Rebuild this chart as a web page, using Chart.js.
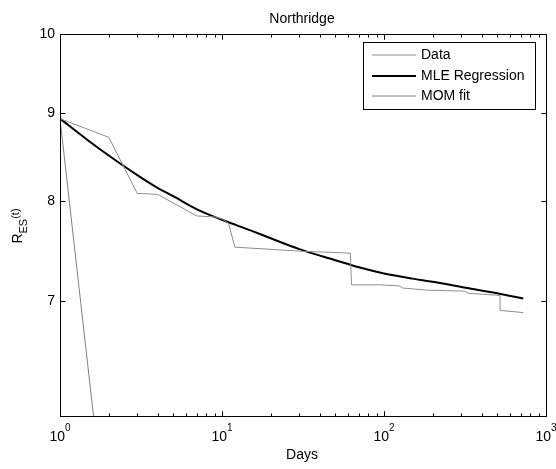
<!DOCTYPE html>
<html>
<head>
<meta charset="utf-8">
<script src="https://cdn.jsdelivr.net/npm/chart.js@4"></script>
<style>
html,body{margin:0;padding:0;background:#fff;}
#wrap{width:556px;height:469px;position:relative;}
</style>
</head>
<body>
<div id="wrap"><canvas id="c" width="556" height="469"></canvas></div>
<script>
// ---- data ----
const dataDays   = [1, 2, 3, 4, 7, 9, 10, 11, 12, 30, 62, 63, 95, 125, 130, 183, 316, 330, 520, 521, 724];
const dataValues = [8.93, 8.71, 8.08, 8.07, 7.84, 7.83, 7.81, 7.76, 7.52, 7.48, 7.46, 7.15, 7.15, 7.14, 7.12, 7.10, 7.09, 7.07, 7.05, 6.91, 6.89];

const mleDays   = [1, 1.5, 2, 3, 4, 5, 7, 10, 15, 20, 30, 50, 70, 100, 150, 200, 300, 500, 724];
const mleValues = [8.93, 8.67, 8.50, 8.28, 8.14, 8.05, 7.91, 7.80, 7.69, 7.61, 7.50, 7.39, 7.32, 7.26, 7.21, 7.18, 7.13, 7.07, 7.02];

const momDays   = [1, 1.61];
const momValues = [8.93, 6.0];

const xTickValues = [1, 10, 100, 1000];
const yTickValues = [6, 7, 8, 9, 10];
const yTickLabels = ['', '7', '8', '9', '10'];

const seriesNames = ['Data', 'MLE Regression', 'MOM fit'];
const titleText = 'Northridge';
const xTitle = 'Days';

const FONT = "'Liberation Sans', Arial, Helvetica, sans-serif";
const toPts = (xs, ys) => xs.map((x, i) => ({x: x, y: ys[i]}));

const decorPlugin = {
  id: 'decor',
  afterDraw(chart) {
    const ctx = chart.ctx;
    const xs = chart.scales.x, ys = chart.scales.y;
    const a = chart.chartArea;
    const L = Math.round(a.left) + 0.5, R = Math.round(a.right) + 0.5;
    const T = Math.round(a.top) + 0.5, B = Math.round(a.bottom) + 0.5;
    ctx.save();
    ctx.strokeStyle = '#000';
    ctx.lineWidth = 1;
    ctx.beginPath();
    ctx.rect(L, T, R - L, B - T);
    ctx.stroke();
    ctx.beginPath();
    for (let d = 1; d < 1000; d *= 10) {
      for (let m = 1; m <= 10; m++) {
        const v = d * m;
        if (v > 1000) continue;
        const px = Math.round(xs.getPixelForValue(v)) + 0.5;
        const len = (m === 1 || m === 10) ? 5 : 3;
        ctx.moveTo(px, B); ctx.lineTo(px, B - len);
        ctx.moveTo(px, T); ctx.lineTo(px, T + len);
      }
    }
    yTickValues.forEach(v => {
      const py = Math.round(ys.getPixelForValue(v)) + 0.5;
      ctx.moveTo(L, py); ctx.lineTo(L + 5, py);
      ctx.moveTo(R, py); ctx.lineTo(R - 5, py);
    });
    ctx.stroke();

    ctx.fillStyle = '#000';
    ctx.textBaseline = 'alphabetic';
    xTickValues.forEach(v => {
      const px = xs.getPixelForValue(v);
      const e = String(Math.round(Math.log10(v)));
      ctx.font = '14px ' + FONT;
      const w1 = ctx.measureText('10').width;
      ctx.font = '10px ' + FONT;
      const w2 = ctx.measureText(e).width;
      const x0 = px - (w1 + w2) / 2;
      ctx.font = '14px ' + FONT;
      ctx.textAlign = 'left';
      ctx.fillText('10', x0, 441);
      ctx.font = '10px ' + FONT;
      ctx.fillText(e, x0 + w1, 431);
    });

    ctx.font = '14px ' + FONT;
    ctx.textAlign = 'center';
    const cx = (a.left + a.right) / 2;
    ctx.fillText(titleText, cx - 1, 23);
    ctx.fillText(xTitle, cx - 1, 459);

    ctx.save();
    const cy = (a.top + a.bottom) / 2;
    ctx.translate(22, cy);
    ctx.rotate(-Math.PI / 2);
    ctx.textAlign = 'left';
    ctx.font = '14px ' + FONT;
    const wR = ctx.measureText('R').width;
    ctx.font = '11px ' + FONT;
    const wES = ctx.measureText('ES').width;
    const wT = ctx.measureText('(t)').width;
    let x0 = -(wR + wES + wT) / 2 - 1;
    ctx.font = '14px ' + FONT;
    ctx.fillText('R', x0, 0);
    ctx.font = '11px ' + FONT;
    ctx.fillText('ES', x0 + wR, 5);
    ctx.fillText('(t)', x0 + wR + wES, -3);
    ctx.restore();

    const bx = 363.5, by = 42.5, bw = 172, bh = 67;
    ctx.fillStyle = '#fff';
    ctx.fillRect(bx, by, bw, bh);
    ctx.strokeStyle = '#000';
    ctx.lineWidth = 1;
    ctx.strokeRect(bx, by, bw, bh);
    const rows = [55, 76, 96];
    chart.data.datasets.forEach((ds, i) => {
      const y = rows[i];
      ctx.beginPath();
      ctx.strokeStyle = ds.borderColor;
      ctx.lineWidth = ds.borderWidth;
      ctx.moveTo(372, y); ctx.lineTo(416, y);
      ctx.stroke();
      ctx.fillStyle = '#000';
      ctx.font = '14px ' + FONT;
      ctx.textAlign = 'left';
      ctx.textBaseline = 'middle';
      ctx.fillText(ds.label, 421, y + 0.5);
    });
    ctx.restore();
  }
};

new Chart(document.getElementById('c'), {
  type: 'line',
  data: {
    datasets: [
      { label: seriesNames[0], data: toPts(dataDays, dataValues), borderColor: '#8c8c8c', borderWidth: 1, pointRadius: 0, tension: 0, fill: false },
      { label: seriesNames[1], data: toPts(mleDays, mleValues), borderColor: '#000000', borderWidth: 2, pointRadius: 0, cubicInterpolationMode: 'monotone', fill: false },
      { label: seriesNames[2], data: toPts(momDays, momValues), borderColor: '#808080', borderWidth: 1, pointRadius: 0, tension: 0, fill: false }
    ]
  },
  options: {
    responsive: false,
    animation: false,
    devicePixelRatio: 1,
    layout: { padding: { left: 0, top: 34, right: 10, bottom: 0 } },
    plugins: { legend: { display: false }, title: { display: false }, tooltip: { enabled: false } },
    scales: {
      x: {
        type: 'logarithmic', min: 1, max: 1000,
        grid: { display: false, drawTicks: false },
        border: { display: false },
        ticks: { display: false },
        afterFit(s) { s.height = 53; }
      },
      y: {
        type: 'logarithmic', min: 6, max: 10,
        grid: { display: false, drawTicks: false },
        border: { display: false },
        afterBuildTicks(s) { s.ticks = yTickValues.map(v => ({ value: v })); },
        ticks: {
          autoSkip: false, padding: 5, color: '#000',
          font: { family: FONT, size: 14 },
          callback(v) { const i = yTickValues.indexOf(v); return i >= 0 ? yTickLabels[i] : ''; }
        },
        afterFit(s) { s.width = 60; }
      }
    }
  },
  plugins: [decorPlugin]
});
</script>
</body>
</html>
